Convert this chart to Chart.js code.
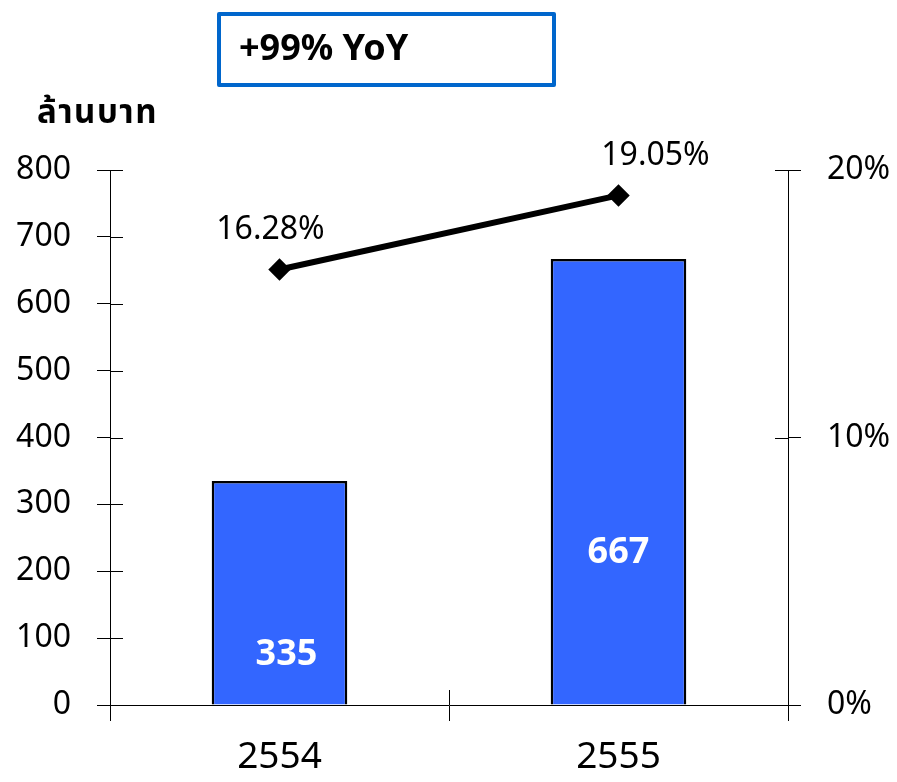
<!DOCTYPE html>
<html>
<head>
<meta charset="utf-8">
<script src="https://cdn.jsdelivr.net/npm/chart.js@4"></script>
<style>
  body { margin: 0; background: #fff; }
  .wrap { position: relative; width: 897px; height: 782px; }
  canvas { position: absolute; left: 0; top: 0; }
  .yoy {
    position: absolute; left: 217px; top: 12px; width: 331px; height: 67px;
    border: 4px solid #0066CC; border-radius: 2px; background: #fff;
    font: bold 36px "Noto Sans", sans-serif; color: #000;
    box-sizing: content-box; line-height: 67px;
  }
  .yoy span { position: absolute; left: 18px; top: -3px; }
  .unit {
    position: absolute; left: 37px; top: 88px; letter-spacing: 1.5px;
    font: bold 33px "Noto Sans Thai", "Noto Sans", "Loma", "Garuda", "DejaVu Sans", sans-serif;
  }
</style>
</head>
<body>
<div class="wrap">
  <canvas id="chart" width="897" height="782"></canvas>
  <div class="yoy"><span>+99% YoY</span></div>
  <div class="unit">ล้านบาท</div>
</div>
<script>
const years = ['2554', '2555'];
const revenue = [335, 667];
const margin = [16.28, 19.05];

const FONT = '"Noto Sans", "DejaVu Sans", sans-serif';

// ขีด tick ที่ยื่นเข้าไปในพื้นที่กราฟ + ป้ายตัวเลข
const extrasPlugin = {
    id: 'extras',
    afterDraw(chart, args, opts) {
        const ctx = chart.ctx;
        const area = chart.chartArea;
        const y = chart.scales.y, y1 = chart.scales.y1, x = chart.scales.x;
        ctx.save();
        ctx.strokeStyle = '#000';
        ctx.lineWidth = 1;
        ctx.beginPath();
        y.ticks.forEach(t => {
            const py = Math.round(y.getPixelForValue(t.value)) + 0.5;
            ctx.moveTo(area.left, py); ctx.lineTo(area.left + 13, py);
        });
        y1.ticks.forEach(t => {
            const py = Math.round(y1.getPixelForValue(t.value)) + 0.5;
            ctx.moveTo(area.right, py); ctx.lineTo(area.right - 13, py);
        });
        for (let i = 1; i < years.length; i++) {
            const px = Math.round((x.getPixelForValue(i - 1) + x.getPixelForValue(i)) / 2) + 0.5;
            ctx.moveTo(px, area.bottom); ctx.lineTo(px, area.bottom - 15);
        }
        ctx.stroke();

        // ค่าบนแท่ง
        ctx.fillStyle = '#fff';
        ctx.font = 'bold 36px ' + FONT;
        ctx.textAlign = 'center';
        ctx.textBaseline = 'middle';
        chart.getDatasetMeta(0).data.forEach((bar, i) => {
            ctx.fillText(String(revenue[i]), bar.x + opts.barLabelDx[i], bar.base - opts.barLabelRise[i]);
        });

        // ค่าบนเส้น
        ctx.fillStyle = '#000';
        ctx.font = '32px ' + FONT;
        chart.getDatasetMeta(1).data.forEach((pt, i) => {
            ctx.fillText(margin[i].toFixed(2) + '%', pt.x + opts.lineLabelDx[i], pt.y - 40);
        });
        ctx.restore();
    }
};

new Chart(document.getElementById('chart'), {
    type: 'bar',
    data: {
        labels: years,
        datasets: [{
            type: 'bar',
            data: revenue,
            backgroundColor: '#3366FF',
            borderColor: '#000',
            borderWidth: 2.5,
            barPercentage: 0.8,
            categoryPercentage: 0.5,
            yAxisID: 'y',
            order: 1
        }, {
            type: 'line',
            data: margin,
            borderColor: '#000',
            borderWidth: 6,
            pointStyle: 'rectRot',
            pointRadius: 7,
            pointBackgroundColor: '#000',
            pointBorderColor: '#000',
            yAxisID: 'y1',
            order: 0
        }]
    },
    options: {
        responsive: false,
        animation: false,
        layout: { padding: { top: 170 } },
        plugins: {
            legend: { display: false },
            tooltip: { enabled: false },
            extras: { barLabelRise: [50, 152], barLabelDx: [7, 0], lineLabelDx: [-9, 37] }
        },
        scales: {
            x: {
                grid: { display: true, drawOnChartArea: false, offset: true, tickLength: 16, color: '#000' },
                border: { display: true, color: '#000' },
                ticks: { color: '#000', font: { family: FONT, size: 37 }, padding: 14 },
                afterFit: s => { s.height = 77; }
            },
            y: {
                position: 'left',
                min: 0, max: 800,
                ticks: { stepSize: 100, color: '#000', font: { family: FONT, size: 32 }, padding: 26 },
                grid: { drawOnChartArea: false, tickLength: 13, color: '#000' },
                border: { display: true, color: '#000' },
                afterFit: s => { s.width = 110; }
            },
            y1: {
                position: 'right',
                min: 0, max: 20,
                ticks: { stepSize: 10, color: '#000', font: { family: FONT, size: 32 }, padding: 26, callback: v => v + '%' },
                grid: { drawOnChartArea: false, tickLength: 13, color: '#000' },
                border: { display: true, color: '#000' },
                afterFit: s => { s.width = 109; }
            }
        }
    },
    plugins: [extrasPlugin]
});
</script>
</body>
</html>
